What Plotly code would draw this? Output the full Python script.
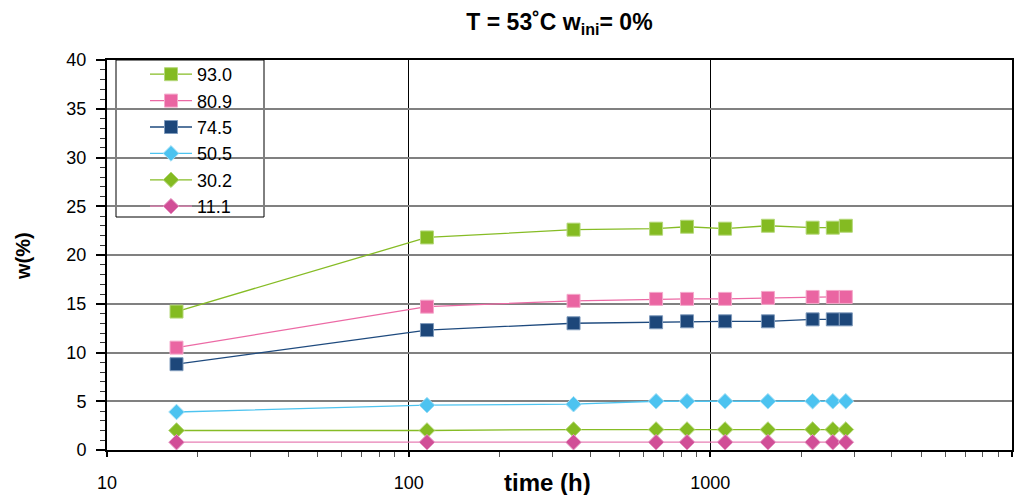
import plotly.graph_objects as go

# Elapsed time (h) for every measurement
time_h = [17, 115, 352, 661, 837, 1119, 1552, 2183, 2547, 2813]

# Moisture content w(%) for each relative humidity series
series_names = ["93.0", "80.9", "74.5", "50.5", "30.2", "11.1"]
w_930 = [14.2, 21.8, 22.6, 22.7, 22.9, 22.7, 23.0, 22.8, 22.8, 23.0]
w_809 = [10.5, 14.7, 15.3, 15.5, 15.5, 15.5, 15.6, 15.7, 15.7, 15.7]
w_745 = [8.8, 12.3, 13.0, 13.1, 13.2, 13.2, 13.2, 13.4, 13.4, 13.4]
w_505 = [3.9, 4.6, 4.7, 5.0, 5.0, 5.0, 5.0, 5.0, 5.0, 5.0]
w_302 = [2.0, 2.0, 2.1, 2.1, 2.1, 2.1, 2.1, 2.1, 2.1, 2.1]
w_111 = [0.8, 0.8, 0.8, 0.8, 0.8, 0.8, 0.8, 0.8, 0.8, 0.8]

x_tick_vals = [10, 100, 1000, 10000]
x_tick_text = ["10", "100", "1000", "10000"]

FONT = "Liberation Sans, Arial, sans-serif"

styles = [
    # (values, line colour, marker fill, marker edge, symbol, size)
    (w_930, "#86BC25", "#84BB22", "#B5D87A", "square", 13),
    (w_809, "#EC6AA5", "#EA65A2", "#F4A9CB", "square", 13),
    (w_745, "#1E4A7E", "#1D477A", "#7F9BBC", "square", 13),
    (w_505, "#4DC4F0", "#4CC3F0", "#9FDEF6", "diamond", 12),
    (w_302, "#86BC25", "#84BB22", "#B5D87A", "diamond", 12),
    (w_111, "#E77FB5", "#D14E97", "#E69BC4", "diamond", 12),
]

fig = go.Figure()
for name, (vals, lc, mc, ec, sym, sz) in zip(series_names, styles):
    fig.add_trace(go.Scatter(
        x=time_h, y=vals, name=name, mode="lines+markers",
        line=dict(color=lc, width=1.3),
        marker=dict(symbol=sym, size=sz, color=mc, line=dict(color=ec, width=1)),
    ))

# Plot-area geometry in pixels
W, H = 1033, 495
L, R, T, B = 107, 1012, 60, 450
pw, ph = R - L, B - T

def px_x(x):
    return (x - L) / pw

def px_y(y):
    return (B - y) / ph

# White framed box behind the legend entries
fig.add_shape(type="rect", xref="paper", yref="paper",
              x0=px_x(116), x1=px_x(264), y0=px_y(217), y1=px_y(60),
              fillcolor="white", line=dict(color="black", width=1), layer="between")

fig.update_layout(
    width=W, height=H,
    margin=dict(l=L, r=W - R, t=T, b=H - B, pad=0, autoexpand=False),
    paper_bgcolor="white", plot_bgcolor="white",
    font=dict(family=FONT, size=18, color="black"),
    title=dict(text="<b>T = 53˚C w<sub>ini</sub>= 0%</b>", x=0.5, xref="paper",
               y=1 - 22 / H, yref="container", xanchor="center", yanchor="middle",
               font=dict(size=23, family=FONT)),
    showlegend=True,
    legend=dict(x=px_x(145), y=px_y(56), xanchor="left", yanchor="top",
                bgcolor="rgba(0,0,0,0)", borderwidth=0, itemwidth=42,
                font=dict(size=18, family=FONT), traceorder="normal"),
    annotations=[
        dict(text="<b>time (h)</b>", xref="paper", yref="paper",
             x=px_x(547), y=px_y(483), xanchor="center", yanchor="middle",
             showarrow=False, font=dict(size=24, family=FONT)),
        dict(text="<b>w(%)</b>", xref="paper", yref="paper",
             x=px_x(23), y=px_y(256), xanchor="center", yanchor="middle",
             textangle=-90, showarrow=False, font=dict(size=20, family=FONT)),
    ],
)

fig.update_xaxes(
    type="log", range=[1, 4], automargin=False,
    tickmode="array", tickvals=x_tick_vals, ticktext=x_tick_text,
    ticks="outside", ticklen=5, tickwidth=1.5, tickcolor="black",
    ticklabelstandoff=10,
    showgrid=True, gridcolor="black", gridwidth=1.2,
    showline=True, linecolor="black", linewidth=2, mirror=True,
    minor=dict(ticks="outside", ticklen=5, tickwidth=1, tickcolor="#555555",
               dtick="D1", showgrid=False),
    zeroline=False, tickfont=dict(size=18),
)

fig.update_yaxes(
    range=[0, 40], tick0=0, dtick=5, automargin=False,
    ticks="outside", ticklen=9, tickwidth=1.5, tickcolor="black",
    ticklabelstandoff=6,
    showgrid=True, gridcolor="#808080", gridwidth=1.5,
    showline=True, linecolor="black", linewidth=2, mirror=True,
    minor=dict(ticks="outside", ticklen=5, tickwidth=1, tickcolor="#333333",
               dtick=1, showgrid=False),
    zeroline=False, tickfont=dict(size=18),
)

fig.write_html("out.html")
